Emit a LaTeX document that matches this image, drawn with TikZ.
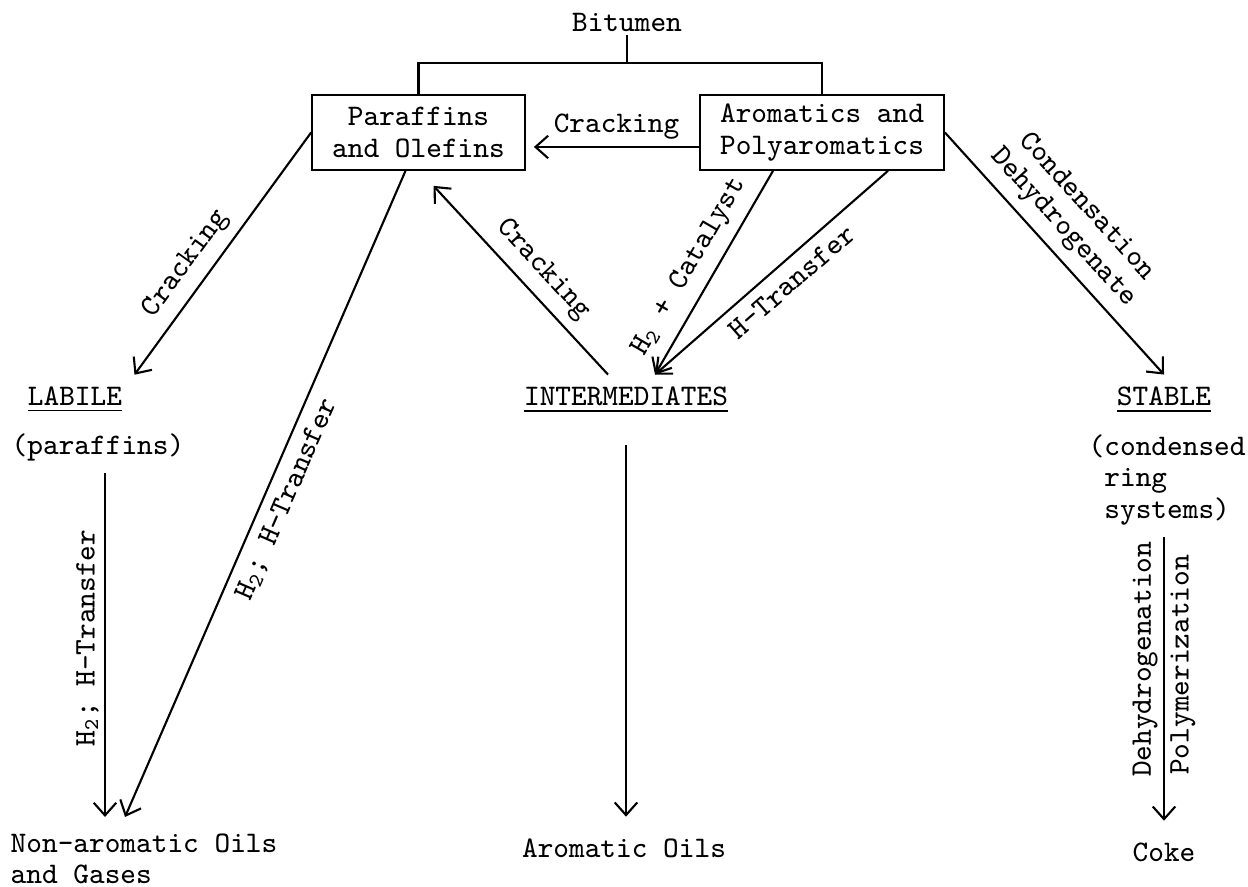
\documentclass[tikz,border=0pt]{standalone}
\usepackage{tikz}
\usetikzlibrary{arrows.meta}

\begin{document}
\begin{tikzpicture}[
    >={Straight Barb[length=3.6pt,width=6.4pt]},
    every node/.style={font=\fontsize{8.5}{8.9}\selectfont\ttfamily},
    caixa/.style={draw, line width=0.5pt, align=center, minimum height=0.75cm, inner ysep=2pt},
    seta/.style={->, line width=0.6pt},
    rot/.style={sloped, inner sep=2.8pt},
    vrot/.style={rotate=90, inner sep=1.5pt}
]
    \useasboundingbox (0,0) rectangle (12.48,8.87);
    % Origem
    \node[inner sep=1pt] (bitumen) at (6.27,8.65) {Bitumen};
    \coordinate (garfo) at (6.25,8.24);
    % Caixas
    \node[caixa, minimum width=2.13cm] (par) at (4.185,7.545) {Paraffins\\and Olefins};
    \node[caixa, minimum width=2.44cm] (aro) at (8.22,7.545) {Aromatics and\\Polyaromatics};
    \draw[line width=0.6pt] (bitumen.south) -- (bitumen.south |- garfo);
    \draw[line width=0.6pt] (par.north) |- (garfo) -| (aro.north);
    % Classes
    \node (labile) at (0.75,4.87) {\underline{LABILE}};
    \node (paren) at (0.98,4.40) {(paraffins)};
    \node (inter) at (6.26,4.87) {\underline{INTERMEDIATES}};
    \node (stable) at (11.64,4.87) {\underline{STABLE}};
    \node[anchor=west, align=left, inner xsep=0pt] (cond) at (10.88,4.07) {(condensed\\\hphantom{(}ring\\\hphantom{(}systems)};
    % Produtos
    \node[anchor=west, align=left, inner xsep=0pt] (nonarom) at (0.10,0.28) {Non-aromatic Oils\\and Gases};
    \node[inner ysep=6pt] (aroil) at (6.24,0.39) {Aromatic Oils};
    \node[inner ysep=6pt] (coke) at (11.64,0.35) {Coke};
    \coordinate (gasin) at (1.25,0.70);
    % Setas
    \draw[seta] ([yshift=-1.45mm]aro.west) -- ([xshift=0.8mm,yshift=-1.45mm]par.east) node[midway, above, inner sep=1.8pt] {Cracking};
    \draw[seta] (par.west) -- (labile.north east) node[rot, pos=0.6, above] {Cracking};
    \draw[seta] ([xshift=-1.3mm]par.south) -- (gasin) node[rot, pos=0.495, below] {H\textsubscript{2}; H-Transfer};
    \draw[seta] ([xshift=0.7mm]paren.south) -- ([xshift=0.7mm]paren.south |- gasin) node[vrot, pos=0.48, above] {H\textsubscript{2}; H-Transfer};
    \draw[seta] ([xshift=-1.8mm]inter.north) -- ([shift={(0.15,-0.15)}]par.south) node[rot, pos=0.47, above] {Cracking};
    \draw[seta] ([xshift=-4.9mm]aro.south) -- ([xshift=2.9mm]inter.north) node[rot, pos=0.53, above] {H\textsubscript{2} + Catalyst};
    \draw[seta] ([xshift=6.6mm]aro.south) -- ([xshift=2.9mm]inter.north) node[rot, pos=0.47, below] {H-Transfer};
    \draw[seta] (aro.east) -- (stable.north) node[rot, pos=0.46, above, align=center] {Condensation\\Dehydrogenate};
    \draw[seta] ([yshift=-2mm]inter.south) -- (inter.south |- aroil.north);
    \draw[seta] (stable |- cond.south) -- (stable |- coke.north)
        node[vrot, pos=0.43, above] {Dehydrogenation}
        node[vrot, pos=0.45, below] {Polymerization};
\end{tikzpicture}
\end{document}
